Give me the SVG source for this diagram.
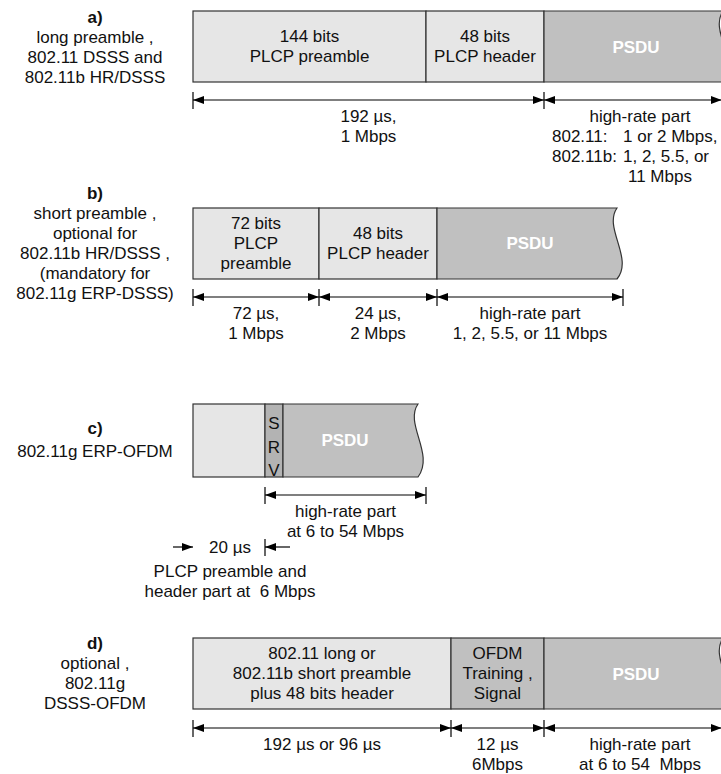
<svg xmlns="http://www.w3.org/2000/svg" width="721" height="774" viewBox="0 0 721 774">
  <defs>
    <style>
      text { font-family: "Liberation Sans", Arial, Helvetica, sans-serif; font-size: 17px; fill: #111; }
      .c { text-anchor: middle; }
      .b { font-weight: bold; }
      .psdu { font-weight: bold; fill: #ffffff; text-anchor: middle; }
      .light { fill: #e6e6e6; stroke: #333; stroke-width: 1.2; }
      .dark { fill: #c0c0c0; stroke: #333; stroke-width: 1.2; }
      .srv { fill: #b3b3b3; stroke: #333; stroke-width: 1.2; }
      .dim { stroke: #000; stroke-width: 1.2; fill: none; }
      .tick { stroke: #000; stroke-width: 1.2; }
    </style>
    <marker id="ah" markerUnits="userSpaceOnUse" markerWidth="11" markerHeight="8" refX="11" refY="4" orient="auto-start-reverse">
      <path d="M0,0 L11,4 L0,8 z" fill="#000"/>
    </marker>
  </defs>

  <!-- side captions -->
  <g id="caption-a">
    <text class="c b" x="95" y="22.5">a)</text>
    <text class="c" x="95" y="42.5">long preamble ,</text>
    <text class="c" x="95" y="62.5">802.11 DSSS and</text>
    <text class="c" x="95" y="82.5">802.11b HR/DSSS</text>
  </g>
  <g id="caption-b">
    <text class="c b" x="95" y="199">b)</text>
    <text class="c" x="95" y="219">short preamble ,</text>
    <text class="c" x="95" y="239">optional for</text>
    <text class="c" x="95" y="259">802.11b HR/DSSS ,</text>
    <text class="c" x="95" y="279">(mandatory for</text>
    <text class="c" x="95" y="299">802.11g ERP-DSSS)</text>
  </g>
  <g id="caption-c">
    <text class="c b" x="95" y="434">c)</text>
    <text class="c" x="95" y="457">802.11g ERP-OFDM</text>
  </g>
  <g id="caption-d">
    <text class="c b" x="95" y="648.5">d)</text>
    <text class="c" x="95" y="668.5">optional ,</text>
    <text class="c" x="95" y="688.5">802.11g</text>
    <text class="c" x="95" y="708.5">DSSS-OFDM</text>
  </g>

  <!-- a) long preamble frame -->
  <g id="a-preamble">
    <rect class="light" x="193" y="11" width="233" height="71"/>
    <text class="c" x="309.5" y="42">144 bits</text>
    <text class="c" x="309.5" y="62">PLCP preamble</text>
  </g>
  <g id="a-header">
    <rect class="light" x="426" y="11" width="118" height="71"/>
    <text class="c" x="485" y="42">48 bits</text>
    <text class="c" x="485" y="62">PLCP header</text>
  </g>
  <g id="a-psdu">
    <path class="dark" d="M544,11 L723,11 C709,31 740,61 723,82 L544,82 Z"/>
    <text class="psdu" x="636" y="52.5">PSDU</text>
  </g>

  <!-- b) short preamble frame -->
  <g id="b-preamble">
    <rect class="light" x="193" y="208" width="126" height="71"/>
    <text class="c" x="256" y="229">72 bits</text>
    <text class="c" x="256" y="249">PLCP</text>
    <text class="c" x="256" y="269">preamble</text>
  </g>
  <g id="b-header">
    <rect class="light" x="319" y="208" width="118" height="71"/>
    <text class="c" x="378" y="239">48 bits</text>
    <text class="c" x="378" y="259">PLCP header</text>
  </g>
  <g id="b-psdu">
    <path class="dark" d="M437,208 L617,208 C603,228 634,258 617,279 L437,279 Z"/>
    <text class="psdu" x="530" y="249">PSDU</text>
  </g>

  <!-- c) ERP-OFDM frame -->
  <g id="c-preamble">
    <rect class="light" x="193" y="404" width="72" height="73"/>
  </g>
  <g id="c-srv">
    <rect class="srv" x="265" y="404" width="18" height="73"/>
    <text class="c" x="274" y="429">S</text>
    <text class="c" x="274" y="452.5">R</text>
    <text class="c" x="274" y="476">V</text>
  </g>
  <g id="c-psdu">
    <path class="dark" d="M283,404 L418,404 C404,424 435,454 418,477 L283,477 Z"/>
    <text class="psdu" x="345" y="446">PSDU</text>
  </g>

  <!-- d) DSSS-OFDM frame -->
  <g id="d-preamble">
    <rect class="light" x="193" y="638" width="258" height="71"/>
    <text class="c" x="322" y="659">802.11 long or</text>
    <text class="c" x="322" y="679">802.11b short preamble</text>
    <text class="c" x="322" y="699">plus 48 bits header</text>
  </g>
  <g id="d-training">
    <rect class="dark" x="451" y="638" width="93" height="71"/>
    <text class="c" x="497.5" y="659">OFDM</text>
    <text class="c" x="497.5" y="679">Training ,</text>
    <text class="c" x="497.5" y="699">Signal</text>
  </g>
  <g id="d-psdu">
    <path class="dark" d="M544,638 L723,638 C709,658 740,688 723,709 L544,709 Z"/>
    <text class="psdu" x="636" y="679.5">PSDU</text>
  </g>

  <!-- dimension connectors -->
  <g id="connectors">
    <!-- a -->
    <line class="tick" x1="193" y1="92" x2="193" y2="109"/>
    <line class="tick" x1="544" y1="92" x2="544" y2="109"/>
    <line class="dim" x1="193" y1="100" x2="544" y2="100" marker-start="url(#ah)" marker-end="url(#ah)"/>
    <line class="dim" x1="544" y1="100" x2="722" y2="100" marker-start="url(#ah)" marker-end="url(#ah)"/>
    <!-- b -->
    <line class="tick" x1="193" y1="289" x2="193" y2="306"/>
    <line class="tick" x1="319" y1="289" x2="319" y2="306"/>
    <line class="tick" x1="437" y1="289" x2="437" y2="306"/>
    <line class="tick" x1="623" y1="289" x2="623" y2="306"/>
    <line class="dim" x1="193" y1="297" x2="319" y2="297" marker-start="url(#ah)" marker-end="url(#ah)"/>
    <line class="dim" x1="319" y1="297" x2="437" y2="297" marker-start="url(#ah)" marker-end="url(#ah)"/>
    <line class="dim" x1="437" y1="297" x2="623" y2="297" marker-start="url(#ah)" marker-end="url(#ah)"/>
    <!-- c -->
    <line class="tick" x1="265" y1="487" x2="265" y2="504"/>
    <line class="tick" x1="426" y1="487" x2="426" y2="504"/>
    <line class="dim" x1="265" y1="495" x2="426" y2="495" marker-start="url(#ah)" marker-end="url(#ah)"/>
    <line class="dim" x1="173" y1="547" x2="193" y2="547" marker-end="url(#ah)"/>
    <line class="tick" x1="265" y1="539" x2="265" y2="556"/>
    <line class="dim" x1="290" y1="547" x2="265" y2="547" marker-end="url(#ah)"/>
    <!-- d -->
    <line class="tick" x1="193" y1="720" x2="193" y2="737"/>
    <line class="tick" x1="451" y1="720" x2="451" y2="737"/>
    <line class="tick" x1="544" y1="720" x2="544" y2="737"/>
    <line class="dim" x1="193" y1="728" x2="451" y2="728" marker-start="url(#ah)" marker-end="url(#ah)"/>
    <line class="dim" x1="451" y1="728" x2="544" y2="728" marker-start="url(#ah)" marker-end="url(#ah)"/>
    <line class="dim" x1="544" y1="728" x2="722" y2="728" marker-start="url(#ah)" marker-end="url(#ah)"/>
  </g>

  <!-- dimension labels -->
  <g id="dim-labels">
    <text class="c" x="368.5" y="122">192 µs,</text>
    <text class="c" x="368.5" y="142">1 Mbps</text>
    <text class="c" x="640" y="122">high-rate part</text>
    <text x="552" y="142">802.11:</text>
    <text x="623" y="142">1 or 2 Mbps,</text>
    <text x="552" y="162">802.11b:</text>
    <text x="623" y="162">1, 2, 5.5, or</text>
    <text x="628" y="182">11 Mbps</text>

    <text class="c" x="256" y="319">72 µs,</text>
    <text class="c" x="256" y="339">1 Mbps</text>
    <text class="c" x="378" y="319">24 µs,</text>
    <text class="c" x="378" y="339">2 Mbps</text>
    <text class="c" x="530" y="319">high-rate part</text>
    <text class="c" x="530" y="339">1, 2, 5.5, or 11 Mbps</text>

    <text class="c" x="345.5" y="517">high-rate part</text>
    <text class="c" x="345.5" y="537">at 6 to 54 Mbps</text>
    <text class="c" x="230" y="553">20 µs</text>
    <text class="c" x="230" y="577">PLCP preamble and</text>
    <text class="c" x="230" y="597" xml:space="preserve">header part at  6 Mbps</text>

    <text class="c" x="322" y="750">192 µs or 96 µs</text>
    <text class="c" x="497.5" y="750">12 µs</text>
    <text class="c" x="497.5" y="770">6Mbps</text>
    <text class="c" x="640" y="750">high-rate part</text>
    <text class="c" x="640" y="770" xml:space="preserve">at 6 to 54  Mbps</text>
  </g>
</svg>
